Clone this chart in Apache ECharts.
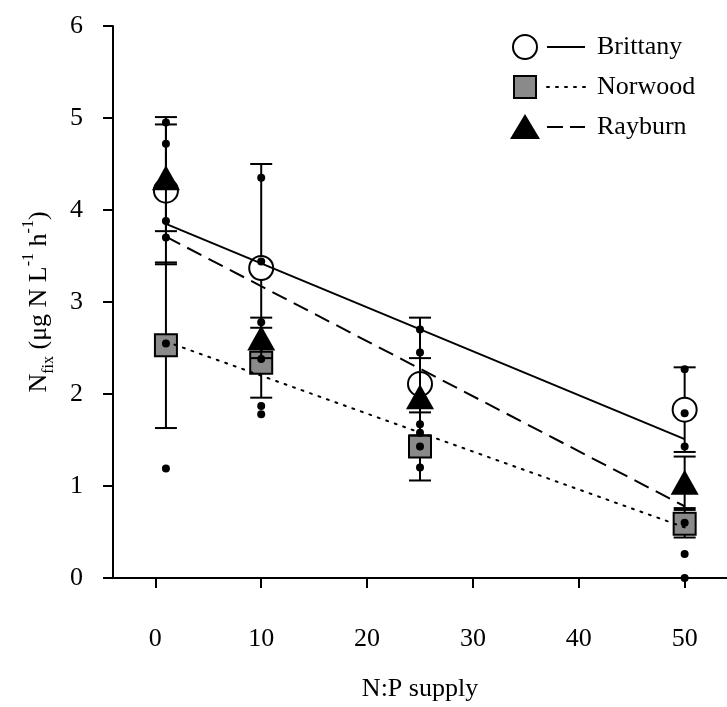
<!DOCTYPE html>
<html>
<head>
<meta charset="utf-8">
<script src="https://cdn.jsdelivr.net/npm/echarts@6/dist/echarts.min.js"></script>
<style>html,body{margin:0;padding:0;background:#fff}#c{width:727px;height:707px}</style>
</head>
<body>
<div id="c"></div>
<script>
// ---- data ----
const npSupply = [1, 10, 25, 50];
const xTickValues = [0, 10, 20, 30, 40, 50];
const yTickValues = [0, 1, 2, 3, 4, 5, 6];

const brittanyMean = [4.21, 3.37, 2.11, 1.83];
const brittanyErr  = [0.80, 1.13, 0.72, 0.46];
const norwoodMean  = [2.53, 2.34, 1.43, 0.59];
const norwoodErr   = [0.90, 0.38, 0.37, 0.15];
const rayburnMean  = [4.35, 2.61, 1.97, 1.04];
const rayburnErr   = [0.58, 0.22, 0.42, 0.28];

// regression line end values (x = 1 and x = 50)
const fitX = [1, 50];
const brittanyFit = [3.85, 1.51];
const norwoodFit  = [2.57, 0.55];
const rayburnFit  = [3.71, 0.78];

// individual replicate measurements (small dots)
const replicatesAt1  = [4.95, 4.72, 3.88, 3.70, 2.55, 1.19];
const replicatesAt10 = [4.35, 3.44, 2.78, 2.38, 1.87, 1.78];
const replicatesAt25 = [2.70, 2.45, 1.67, 1.58, 1.43, 1.20];
const replicatesAt50 = [2.27, 1.79, 1.43, 0.60, 0.26, 0.00];

const seriesNames = ['Brittany', 'Norwood', 'Rayburn'];

// ---- build ----
const FONT = '"Liberation Serif", "Times New Roman", serif';
const pairs = (xs, ys) => xs.map((x, i) => [x, ys[i]]);
const errData = (m, e) => npSupply.map((x, i) => [x, m[i] - e[i], m[i] + e[i]]);
const replicateData = [].concat(
  replicatesAt1.map(v => [1, v]),
  replicatesAt10.map(v => [10, v]),
  replicatesAt25.map(v => [25, v]),
  replicatesAt50.map(v => [50, v])
);

function errSeries(name, m, e, z) {
  return {
    type: 'custom', name: name + ' err', z: z, silent: true,
    data: errData(m, e),
    encode: { x: 0, y: [1, 2] },
    renderItem: function (params, api) {
      const x = api.value(0);
      const lo = api.coord([x, api.value(1)]);
      const hi = api.coord([x, api.value(2)]);
      const hw = 11;
      const st = { stroke: '#000', lineWidth: 2 };
      return {
        type: 'group',
        children: [
          { type: 'line', shape: { x1: lo[0], y1: lo[1], x2: hi[0], y2: hi[1] }, style: st },
          { type: 'line', shape: { x1: lo[0] - hw, y1: lo[1], x2: lo[0] + hw, y2: lo[1] }, style: st },
          { type: 'line', shape: { x1: hi[0] - hw, y1: hi[1], x2: hi[0] + hw, y2: hi[1] }, style: st }
        ]
      };
    }
  };
}

const chart = echarts.init(document.getElementById('c'), null, { renderer: 'canvas' });
const legendX = 525;
const legendRows = [47, 87, 127];
const option = {
  animation: false,
  backgroundColor: '#fff',
  grid: { left: 113, right: 0, top: 26, bottom: 129, containLabel: false, outerBoundsMode: 'none' },
  xAxis: {
    type: 'value', min: -4, max: 54,
    name: 'N:P supply', nameLocation: 'middle', nameGap: 98,
    nameTextStyle: { fontFamily: FONT, fontSize: 26, color: '#000' },
    axisLine: { show: true, onZero: false, lineStyle: { color: '#000', width: 2 } },
    axisTick: { show: true, length: 10, customValues: xTickValues, lineStyle: { color: '#000', width: 2 } },
    axisLabel: { customValues: xTickValues, margin: 48, fontFamily: FONT, fontSize: 26, color: '#000' },
    splitLine: { show: false }
  },
  yAxis: {
    type: 'value', min: 0, max: 6, interval: 1,
    name: '{n|N}{sub|fix}{n| (μg N L}{sup|-1}{n| h}{sup|-1}{n|)}',
    nameLocation: 'middle', nameGap: 56, nameRotate: 90,
    nameTextStyle: {
      fontFamily: FONT, fontSize: 26, color: '#000',
      rich: {
        n: { fontFamily: FONT, fontSize: 26, color: '#000', lineHeight: 36, verticalAlign: 'middle' },
        sub: { fontFamily: FONT, fontSize: 16, color: '#000', lineHeight: 36, verticalAlign: 'bottom' },
        sup: { fontFamily: FONT, fontSize: 16, color: '#000', lineHeight: 36, verticalAlign: 'top' }
      }
    },
    axisLine: { show: true, onZero: false, lineStyle: { color: '#000', width: 2 } },
    axisTick: { show: true, length: 10, lineStyle: { color: '#000', width: 2 } },
    axisLabel: { margin: 30, fontFamily: FONT, fontSize: 26, color: '#000' },
    splitLine: { show: false }
  },
  series: [
    errSeries('Brittany', brittanyMean, brittanyErr, 2),
    {
      type: 'scatter', name: 'Brittany', z: 3, data: pairs(npSupply, brittanyMean),
      symbol: 'circle', symbolSize: 24,
      itemStyle: { color: '#fff', borderColor: '#000', borderWidth: 2, opacity: 1 }
    },
    errSeries('Norwood', norwoodMean, norwoodErr, 4),
    {
      type: 'scatter', name: 'Norwood', z: 5, data: pairs(npSupply, norwoodMean),
      symbol: 'rect', symbolSize: 22,
      itemStyle: { color: '#8a8a8a', borderColor: '#000', borderWidth: 2, opacity: 1 }
    },
    errSeries('Rayburn', rayburnMean, rayburnErr, 6),
    {
      type: 'scatter', name: 'Rayburn', z: 7, data: pairs(npSupply, rayburnMean),
      symbol: 'triangle', symbolSize: [28, 25],
      itemStyle: { color: '#000', opacity: 1 }
    },
    {
      type: 'scatter', name: 'replicates', z: 9, data: replicateData,
      symbol: 'circle', symbolSize: 8, itemStyle: { color: '#000', opacity: 1 }
    },
    {
      type: 'line', name: 'Brittany fit', z: 10, data: pairs(fitX, brittanyFit), showSymbol: false,
      lineStyle: { color: '#000', width: 2, type: 'solid' }
    },
    {
      type: 'line', name: 'Norwood fit', z: 10, data: pairs(fitX, norwoodFit), showSymbol: false,
      lineStyle: { color: '#000', width: 2, type: [2, 7], cap: 'round' }
    },
    {
      type: 'line', name: 'Rayburn fit', z: 10, data: pairs(fitX, rayburnFit), showSymbol: false,
      lineStyle: { color: '#000', width: 2, type: [16, 8] }
    }
  ],
  graphic: [
    { type: 'circle', shape: { cx: legendX, cy: legendRows[0], r: 12 }, style: { fill: '#fff', stroke: '#000', lineWidth: 2 } },
    { type: 'line', shape: { x1: 547, y1: legendRows[0], x2: 585, y2: legendRows[0] }, style: { stroke: '#000', lineWidth: 2 } },
    { type: 'text', x: 597, y: legendRows[0], style: { text: seriesNames[0], font: '26px ' + FONT, fill: '#000', verticalAlign: 'middle' } },

    { type: 'rect', shape: { x: legendX - 11, y: legendRows[1] - 11, width: 22, height: 22 }, style: { fill: '#8a8a8a', stroke: '#000', lineWidth: 2 } },
    { type: 'line', shape: { x1: 547, y1: legendRows[1], x2: 585, y2: legendRows[1] }, style: { stroke: '#000', lineWidth: 2, lineDash: [2, 7], lineCap: 'round' } },
    { type: 'text', x: 597, y: legendRows[1], style: { text: seriesNames[1], font: '26px ' + FONT, fill: '#000', verticalAlign: 'middle' } },

    { type: 'polygon', shape: { points: [[legendX, legendRows[2] - 13], [legendX + 15, legendRows[2] + 12], [legendX - 15, legendRows[2] + 12]] }, style: { fill: '#000' } },
    { type: 'line', shape: { x1: 547, y1: legendRows[2], x2: 585, y2: legendRows[2] }, style: { stroke: '#000', lineWidth: 2, lineDash: [16, 7] } },
    { type: 'text', x: 597, y: legendRows[2], style: { text: seriesNames[2], font: '26px ' + FONT, fill: '#000', verticalAlign: 'middle' } }
  ]
};
chart.setOption(option);
</script>
</body>
</html>
